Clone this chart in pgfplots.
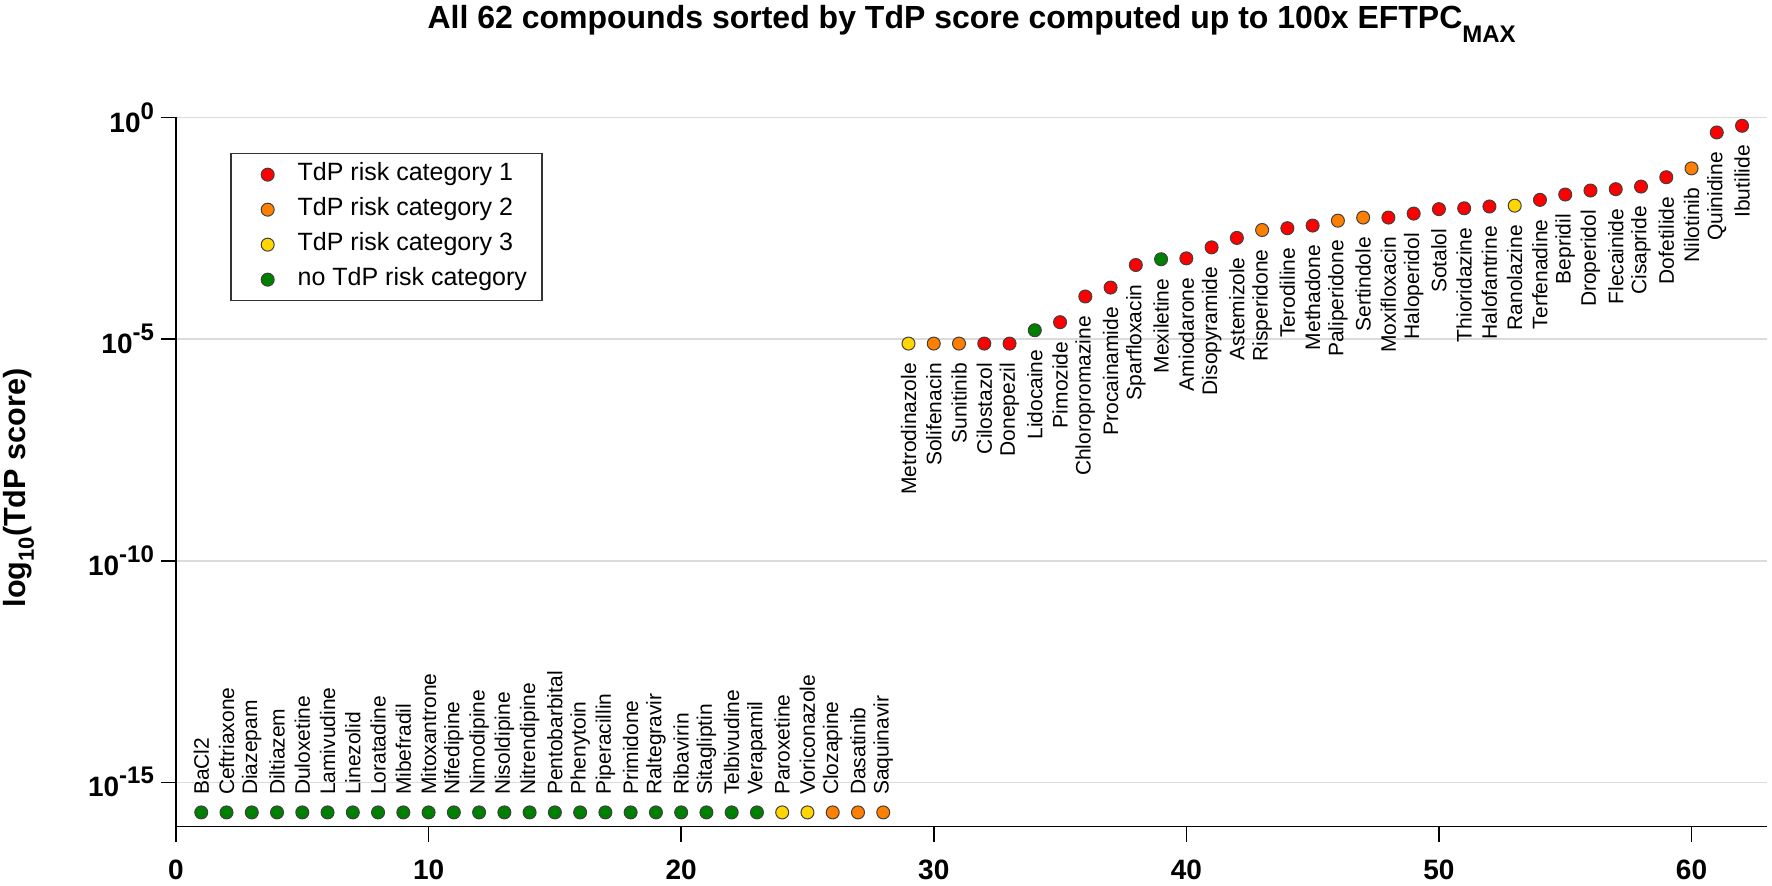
\documentclass[border=0pt]{standalone}
\usepackage{fontspec}
\setmainfont{Liberation Sans}
\usepackage{pgfplots}
\pgfplotsset{compat=1.18}

\definecolor{catred}{RGB}{255,0,0}
\definecolor{catorange}{RGB}{255,128,0}
\definecolor{catyellow}{RGB}{255,214,0}
\definecolor{catgreen}{RGB}{0,128,0}

\newcommand{\ylab}[1]{10\raisebox{6.5pt}{\fontsize{12}{12}\selectfont\bfseries #1}}

\pgfplotsset{
  dot/.style={only marks, mark=*, mark size=3.25pt,
    mark options={draw=black!75, line width=0.5pt, fill=#1},
    legend image code/.code={\path (-10.5pt,0pt); \draw[##1] plot coordinates {(0pt,0pt)};}},
  below labels/.style={nodes near coords, point meta=explicit symbolic,
    nodes near coords style={font=\fontsize{10.5}{12}\selectfont, text=black,
      inner sep=0pt, anchor=east, yshift=-9.5pt, rotate=90}},
  above labels/.style={nodes near coords, point meta=explicit symbolic,
    nodes near coords style={font=\fontsize{10.5}{12}\selectfont, text=black,
      inner sep=0pt, anchor=west, yshift=8.5pt, rotate=90}},
}

\begin{document}
\begin{tikzpicture}
\useasboundingbox (-88pt,-29.65pt) rectangle (798pt,413.35pt);
\begin{axis}[
  at={(0pt,0pt)}, anchor=south west,
  scale only axis,
  width=795.65pt, height=354.65pt,
  xmin=0, xmax=63,
  ymode=log, ymin=1e-16, ymax=1,
  clip=false,
  axis lines=left,
  axis line style={-, line width=0.8pt, black},
  tick align=outside,
  major tick length=7.5pt,
  every tick/.style={black, line width=0.8pt},
  minor tick num=0,
  yminorticks=false,
  xtick={0,10,20,30,40,50,60},
  /pgf/number format/assume math mode=true,
  xticklabel style={font=\fontsize{14}{16}\selectfont\bfseries, yshift=-5.5pt},
  ytick={1e-15,1e-10,1e-5,1},
  yticklabels={\ylab{-15},\ylab{-10},\ylab{-5},\ylab{0}},
  yticklabel style={font=\fontsize{14}{16}\selectfont\bfseries},
  ymajorgrids,
  major grid style={draw=black!14, line width=0.8pt},
  ylabel={log\raisebox{-4pt}{\fontsize{11}{11}\selectfont\bfseries 10}(TdP score)},
  ylabel style={font=\fontsize{15.3}{18}\selectfont\bfseries,
    at={(axis description cs:-0.0943,0.4775)}, anchor=base},
  title={All 62 compounds sorted by TdP score computed up to 100x EFTPC\raisebox{-7pt}{\fontsize{12}{12}\selectfont\bfseries MAX}},
  title style={font=\fontsize{16}{18}\selectfont\bfseries,
    at={(axis description cs:0.5,1)}, anchor=base, yshift=38.2pt},
  legend style={at={(axis description cs:0.034,0.950)}, anchor=north west,
    draw=black!80, line width=0.8pt,
    font=\fontsize{12.5}{15}\selectfont,
    inner xsep=7.5pt, inner ysep=4.5pt, row sep=5.5pt,
    nodes={inner sep=0pt, text height=9pt, text depth=3pt},
    /tikz/every odd column/.style={column sep=11.75pt},
    cells={anchor=west}},
]

% ---- compounds with a nonzero score (labels below) ----
% risk category 1
\addplot[dot=catred, below labels] coordinates {
  (32,7.9e-6) [Cilostazol]
  (33,7.9e-6) [Donepezil]
  (35,2.40e-5) [Pimozide]
  (36,9.12e-5) [Chloropromazine]
  (37,1.45e-4) [Procainamide]
  (38,4.68e-4) [Sparfloxacin]
  (40,6.61e-4) [Amiodarone]
  (41,1.17e-3) [Disopyramide]
  (42,1.91e-3) [Astemizole]
  (44,3.16e-3) [Terodiline]
  (45,3.63e-3) [Methadone]
  (48,5.50e-3) [Moxifloxacin]
  (49,6.76e-3) [Haloperidol]
  (50,8.51e-3) [Sotalol]
  (51,8.91e-3) [Thioridazine]
  (52,9.77e-3) [Halofantrine]
  (54,1.38e-2) [Terfenadine]
  (55,1.82e-2) [Bepridil]
  (56,2.24e-2) [Droperidol]
  (57,2.40e-2) [Flecainide]
  (58,2.75e-2) [Cisapride]
  (59,4.47e-2) [Dofetilide]
  (61,0.457) [Quinidine]
  (62,0.646) [Ibutilide]
};
% risk category 2
\addplot[dot=catorange, below labels] coordinates {
  (30,7.9e-6) [Solifenacin]
  (31,7.9e-6) [Sunitinib]
  (43,2.88e-3) [Risperidone]
  (46,4.68e-3) [Paliperidone]
  (47,5.50e-3) [Sertindole]
  (60,7.08e-2) [Nilotinib]
};
% risk category 3
\addplot[dot=catyellow, below labels] coordinates {
  (29,7.9e-6) [Metrodinazole]
  (53,1.02e-2) [Ranolazine]
};
% no risk category
\addplot[dot=catgreen, below labels] coordinates {
  (34,1.58e-5) [Lidocaine]
  (39,6.31e-4) [Mexiletine]
};

% ---- compounds with zero score (labels above) ----
\addplot[dot=catgreen, above labels, forget plot] coordinates {
  (1,2.1e-16) [BaCl2]
  (2,2.1e-16) [Ceftriaxone]
  (3,2.1e-16) [Diazepam]
  (4,2.1e-16) [Diltiazem]
  (5,2.1e-16) [Duloxetine]
  (6,2.1e-16) [Lamivudine]
  (7,2.1e-16) [Linezolid]
  (8,2.1e-16) [Loratadine]
  (9,2.1e-16) [Mibefradil]
  (10,2.1e-16) [Mitoxantrone]
  (11,2.1e-16) [Nifedipine]
  (12,2.1e-16) [Nimodipine]
  (13,2.1e-16) [Nisoldipine]
  (14,2.1e-16) [Nitrendipine]
  (15,2.1e-16) [Pentobarbital]
  (16,2.1e-16) [Phenytoin]
  (17,2.1e-16) [Piperacillin]
  (18,2.1e-16) [Primidone]
  (19,2.1e-16) [Raltegravir]
  (20,2.1e-16) [Ribavirin]
  (21,2.1e-16) [Sitagliptin]
  (22,2.1e-16) [Telbivudine]
  (23,2.1e-16) [Verapamil]
};
\addplot[dot=catyellow, above labels, forget plot] coordinates {
  (24,2.1e-16) [Paroxetine]
  (25,2.1e-16) [Voriconazole]
};
\addplot[dot=catorange, above labels, forget plot] coordinates {
  (26,2.1e-16) [Clozapine]
  (27,2.1e-16) [Dasatinib]
  (28,2.1e-16) [Saquinavir]
};

\legend{TdP risk category 1, TdP risk category 2, TdP risk category 3, no TdP risk category}
\end{axis}
\end{tikzpicture}
\end{document}
